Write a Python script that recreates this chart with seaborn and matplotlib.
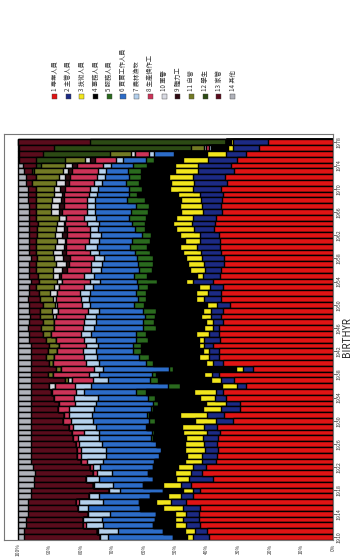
import numpy as np
import pandas as pd
import seaborn as sns
import matplotlib.pyplot as plt
from matplotlib.patches import Rectangle

years = list(range(1910, 1979))

# shares (%) per birth year, 1910 -> 1978
red = [39.2, 39.7, 42.3, 42.3, 42.3, 42.3, 46.6, 44.4, 42.3, 45.0,
       38.1, 41.3, 40.2, 37.0, 37.0, 36.5, 37.0, 36.5, 36.0, 37.0,
       31.7, 34.9, 29.6, 29.6, 33.9, 34.9, 27.5, 31.7, 36.0, 25.4,
       34.9, 36.0, 36.0, 38.1, 36.0, 36.0, 36.0, 34.9, 34.9, 34.9,
       32.8, 35.4, 35.4, 34.9, 38.1, 36.0, 36.0, 34.9, 35.4, 36.0,
       36.0, 36.0, 36.5, 38.1, 37.6, 37.0, 35.4, 36.0, 35.4, 34.9,
       36.0, 33.9, 34.9, 31.7, 32.8, 30.7, 27.5, 23.3, 20.6]
navy = [4.8, 3.7, 4.2, 4.8, 4.2, 5.3, 4.8, 3.7, 2.1, 3.2,
        7.4, 3.7, 4.2, 4.2, 4.8, 4.2, 4.2, 4.8, 4.2, 4.2,
        5.3, 5.3, 5.8, 4.2, 3.2, 2.1, 2.6, 4.2, 2.1, 3.2,
        3.2, 3.2, 3.2, 2.6, 4.8, 3.2, 2.1, 3.2, 3.2, 3.7,
        4.2, 5.3, 4.2, 4.2, 6.3, 5.3, 5.3, 6.3, 6.9, 6.3,
        7.4, 6.3, 6.3, 6.3, 7.4, 7.4, 6.3, 6.3, 6.9, 7.4,
        9.0, 10.6, 10.1, 11.6, 10.6, 9.5, 6.3, 8.5, 11.1]
yellow = [2.1, 3.2, 3.7, 2.6, 3.7, 6.3, 4.8, 4.2, 3.2, 5.8,
          4.2, 4.8, 4.8, 5.3, 4.8, 6.3, 5.8, 5.3, 7.4, 6.9,
          6.9, 8.5, 5.8, 6.3, 4.8, 6.9, 4.8, 3.2, 2.6, 2.1,
          2.1, 3.2, 2.1, 1.6, 1.6, 4.2, 2.6, 2.1, 3.2, 2.6,
          3.2, 2.6, 3.7, 3.2, 2.1, 2.1, 4.8, 5.3, 5.3, 5.8,
          5.3, 4.8, 6.3, 5.8, 5.8, 5.3, 6.9, 6.9, 6.3, 6.9,
          7.4, 7.4, 7.9, 7.4, 7.4, 7.9, 5.8, 1.6, 0.5]
black = [4.2, 6.9, 6.9, 6.3, 5.8, 7.4, 5.3, 5.8, 6.3, 6.3,
         7.4, 8.5, 7.9, 9.5, 8.5, 7.4, 9.0, 10.6, 9.5, 11.1,
         12.7, 10.1, 15.9, 15.3, 14.3, 15.3, 13.2, 16.9, 15.3, 20.1,
         16.9, 15.9, 19.6, 18.5, 16.4, 15.9, 15.3, 16.4, 14.3, 14.8,
         20.1, 15.9, 15.9, 16.4, 9.5, 15.9, 12.2, 11.1, 10.6, 10.6,
         10.6, 11.1, 9.5, 10.1, 9.0, 9.5, 10.6, 10.1, 11.6, 13.2,
         9.0, 10.1, 9.0, 11.1, 9.0, 9.5, 10.0, 4.8, 1.6]
green = [0, 0, 0, 0, 0, 0, 0, 0, 0, 0,
         0, 0, 0, 0.5, 0.5, 0.5, 0.5, 0.5, 0.5, 0.5,
         1.6, 0.5, 0.5, 1.6, 2.1, 3.2, 3.7, 2.6, 1.1, 1.1,
         2.1, 3.2, 2.6, 2.6, 3.7, 3.2, 4.2, 3.7, 3.2, 4.2,
         3.2, 2.6, 3.2, 3.2, 6.3, 4.2, 4.2, 4.8, 5.3, 4.8,
         5.3, 5.8, 2.6, 3.2, 4.2, 5.3, 5.3, 4.2, 5.8, 2.6,
         4.2, 4.2, 3.7, 4.2, 4.8, 2.6, 0.5, 0, 0]
blue = [20.6, 14.3, 15.9, 16.9, 14.8, 16.4, 11.6, 15.9, 13.8, 9.5,
        16.9, 11.6, 16.9, 15.9, 16.9, 17.5, 16.9, 16.4, 16.9, 15.9,
        18.0, 17.5, 18.0, 18.0, 15.9, 16.4, 24.3, 13.2, 16.9, 21.2,
        14.8, 13.2, 11.6, 11.1, 12.7, 14.3, 15.3, 14.8, 15.3, 13.8,
        13.8, 15.3, 14.8, 14.3, 11.6, 12.7, 12.2, 11.6, 10.6, 11.6,
        10.6, 10.6, 13.2, 11.6, 10.6, 10.6, 11.6, 13.2, 10.1, 10.1,
        10.1, 7.9, 7.9, 6.9, 6.9, 7.4, 6.3, 0.5, 0]
lightblue = [2.6, 6.3, 5.3, 5.8, 6.9, 3.2, 7.4, 3.2, 3.2, 5.8,
             4.2, 4.8, 2.1, 5.3, 7.9, 7.9, 7.4, 6.9, 4.8, 7.4,
             6.9, 7.4, 7.9, 6.9, 7.4, 2.6, 5.3, 4.8, 3.0, 2.6,
             4.2, 4.2, 4.2, 3.7, 3.7, 3.2, 3.7, 3.7, 3.2, 3.7,
             2.6, 2.6, 3.2, 2.6, 3.2, 3.2, 3.2, 3.7, 3.2, 2.6,
             3.7, 3.2, 3.7, 2.6, 3.7, 3.7, 2.6, 2.6, 2.6, 2.6,
             2.6, 2.6, 2.6, 2.6, 2.6, 2.1, 1.6, 0.5, 0]
crimson = [0, 0.5, 1.1, 0, 0, 0, 1.1, 0, 0, 0.5,
           0, 1.1, 1.1, 1.6, 1.1, 1.1, 1.1, 1.6, 3.7, 1.1,
           2.6, 1.6, 3.7, 4.8, 6.3, 7.4, 6.3, 6.9, 11.6, 10.6,
           10.6, 9.5, 8.3, 8.5, 9.0, 9.5, 9.0, 9.5, 9.0, 9.5,
           8.1, 7.9, 7.2, 8.1, 8.8, 7.4, 7.9, 6.9, 7.9, 7.9,
           6.3, 7.2, 7.4, 7.4, 6.9, 5.8, 7.9, 7.4, 7.4, 7.9,
           7.9, 7.9, 8.5, 8.5, 8.5, 6.9, 4.5, 1.0, 0]
dark = [0, 0, 0, 0, 0, 0, 0, 0, 0, 0,
        0, 0, 0, 0, 0, 0, 0, 0, 0, 0,
        0, 0, 0, 0, 0, 0, 0, 0, 0, 0,
        0, 0, 0, 0, 0, 0, 0, 0, 0, 0,
        0, 0, 0, 0, 0, 0.5, 1.6, 1.1, 2.1, 1.1,
        0.5, 0.5, 1.6, 1.1, 0.5, 0, 1.1, 1.6, 1.1, 0.5,
        1.6, 1.1, 1.6, 1.1, 1.6, 1.6, 0, 0, 0]
white = [0, 0, 0, 0, 0, 0, 0, 0, 0, 0,
         0, 0, 0, 0, 0, 0, 0, 0, 0, 0,
         0, 0, 0, 0, 0, 0, 1.6, 1.1, 0, 0,
         0, 0, 0, 0, 0, 0, 0, 0, 1.0, 1.8,
         0.5, 1.1, 2.1, 1.4, 1.6, 1.8, 2.9, 3.0, 2.9, 2.9,
         2.9, 2.6, 2.3, 2.4, 2.1, 2.1, 2.6, 2.6, 2.6, 2.6,
         2.1, 3.2, 2.1, 1.6, 2.1, 1.6, 1.1, 0.5, 0]
olive = [0, 0, 0, 0, 0, 0, 0, 0, 0, 0,
         0, 0, 0, 0, 0, 0, 0, 0, 0, 0,
         0, 0, 0, 0, 0, 0.5, 0, 1.0, 1.6, 1.6,
         1.1, 2.6, 2.9, 3.2, 3.2, 2.6, 4.2, 3.7, 4.2, 4.0,
         4.0, 4.2, 3.4, 5.8, 5.8, 5.1, 5.6, 6.6, 5.6, 5.6,
         6.1, 6.6, 5.6, 6.0, 6.3, 7.4, 4.8, 4.8, 5.3, 5.8,
         5.8, 7.4, 7.4, 9.5, 7.9, 6.3, 6.6, 4.2, 0]
dkgreen = [0] * 60 + [0, 0, 0, 0.5, 1.6, 9.5, 21.2, 43.4, 43.4]
maroon = [23.8, 22.8, 18.0, 18.0, 19.0, 15.9, 15.3, 18.5, 24.9, 18.5,
          16.4, 18.5, 18.0, 15.9, 14.8, 14.8, 14.3, 13.2, 13.2, 12.2,
          10.1, 10.6, 8.5, 9.0, 7.4, 6.3, 5.8, 11.0, 5.3, 7.9,
          5.8, 4.8, 5.3, 5.8, 5.3, 4.2, 4.2, 4.2, 3.2, 3.2,
          4.2, 3.7, 3.2, 2.1, 2.6, 2.6, 2.1, 2.1, 2.1, 2.1,
          2.1, 2.1, 2.6, 2.6, 2.6, 2.1, 2.1, 2.1, 2.6, 2.6,
          2.6, 2.1, 3.2, 2.6, 4.2, 5.3, 7.4, 11.1, 22.8]
gray = [2.1, 2.1, 2.6, 2.6, 3.2, 3.2, 3.2, 4.2, 4.2, 5.3,
        5.3, 5.3, 4.8, 4.2, 4.2, 4.2, 4.2, 4.2, 4.2, 4.2,
        4.2, 4.2, 4.2, 4.2, 4.2, 4.2, 4.2, 4.2, 4.2, 4.2,
        4.2, 4.2, 4.2, 4.2, 3.7, 3.7, 3.2, 3.7, 3.7, 3.7,
        3.7, 3.2, 3.7, 3.7, 4.2, 3.7, 3.7, 3.7, 4.2, 3.7,
        3.7, 3.7, 3.7, 3.7, 3.7, 3.7, 3.7, 3.7, 3.2, 3.2,
        3.2, 2.6, 2.6, 2.1, 1.6, 0.5, 0.5, 0.5, 0]

# stacking order, from 0% outwards
categories = ['1 專業人員', '2 主管人員', '3 技術人員', '4 事務人員', '5 服務人員',
              '6 買賣工作人員', '7 農林漁牧', '8 生產操作工', '9 體力工',
              '10 軍警', '11 自營', '12 學生', '13 家管', '14 其他']
colors = ['#e01414', '#1c2a84', '#f2e61c', '#000000', '#2a6a1e', '#2c6cc8',
          '#b4d0ec', '#cc3358', '#2e0a12', '#d8dae2', '#727a24', '#2c4a14',
          '#5a0c1c', '#b0b2ba']
series = [red, navy, yellow, black, green, blue, lightblue, crimson, dark,
          white, olive, dkgreen, maroon, gray]
# legend order as printed
legend_order = [0, 1, 2, 3, 4, 5, 6, 7, 9, 8, 10, 11, 12, 13]

df = pd.DataFrame(dict(zip(categories, series)), index=years)
share = df.div(df.sum(axis=1), axis=0) * 100
cum = share.cumsum(axis=1)
cum.index.name = 'year'
long = cum.reset_index()

sns.set_style('white')
plt.rcParams['font.family'] = ['Noto Sans CJK TC', 'DejaVu Sans']

fig = plt.figure(figsize=(3.53, 5.57), dpi=100)
ax = fig.add_axes([0.011, 0.031, 0.932, 0.729])

order = years[::-1]
for cat, col in reversed(list(zip(categories, colors))):
    sns.barplot(data=long, x=cat, y='year', order=order, orient='h',
                color=col, saturation=1, width=1, edgecolor='black',
                linewidth=1.0, errorbar=None, ax=ax)

ax.set_xlim(104.4, 0)
ax.set_ylim(68.5, -1.5)

ax.set_xticks(range(0, 101, 10))
ax.set_xticklabels([f'{v}%' for v in range(0, 101, 10)], rotation=90,
                   fontsize=3.5)
ticks = list(range(1910, 1979, 4))
ax.set_yticks([order.index(y) for y in ticks])
ax.set_yticklabels([str(y) for y in ticks], rotation=90, fontsize=3.8,
                   va='center')
ax.yaxis.tick_right()
ax.yaxis.set_label_position('right')
ax.set_xlabel('')
ax.set_ylabel('BIRTHYR', fontsize=7, rotation=90, labelpad=0.5)
ax.tick_params(length=2, width=0.5, pad=0.8, colors='#333333')
for s in ax.spines.values():
    s.set_color('#777777')
    s.set_linewidth(0.8)

# legend, drawn turned like the rest of the page
W, H = 353, 557
x0, dx = 52, 13.7
for i, k in enumerate(legend_order):
    x = x0 + i * dx
    fig.patches.append(Rectangle((x / W, 1 - 99 / H), 5 / W, 5 / H,
                                 transform=fig.transFigure,
                                 facecolor=colors[k], edgecolor='#444444',
                                 linewidth=0.3))
    fig.text((x + 2.5) / W, 1 - 91 / H, categories[k], rotation=90,
             ha='center', va='bottom', fontsize=4.5, color='#333333')

fig.savefig('out.png', dpi=100)
